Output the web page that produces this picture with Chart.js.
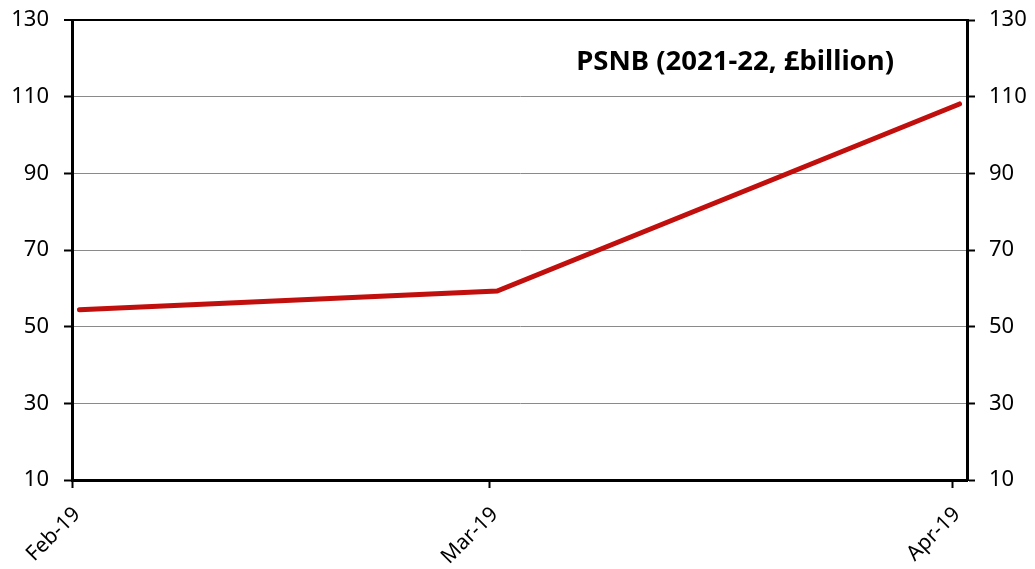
<!DOCTYPE html>
<html>
<head>
<meta charset="utf-8">
<script src="https://cdn.jsdelivr.net/npm/chart.js@4"></script>
<style>
  html, body { margin: 0; padding: 0; background: #fff; }
  #wrap { width: 1035px; height: 569px; }
</style>
</head>
<body>
<div id="wrap"><canvas id="psnbChart" width="1035" height="569"></canvas></div>
<script>
// Days counted from 1 Feb 2019 (Feb has 28 days, so Mar 1 = 28, Apr 1 = 59)
const tickDays = [0, 28, 59];
const tickLabels = ['Feb-19', 'Mar-19', 'Apr-19'];
const pointDays = [0.5, 28.5, 59.5];
const psnbValues = [54.4, 59.3, 108.1];
const yTicks = [10, 30, 50, 70, 90, 110, 130];

const FONT = '"Noto Sans", "Open Sans", sans-serif';

// title drawn inside plot area
const titlePlugin = {
    id: 'insideTitle',
    afterDraw(chart) {
        const ctx = chart.ctx;
        ctx.save();
        ctx.font = 'bold 27.5px ' + FONT;
        ctx.fillStyle = '#000';
        ctx.textAlign = 'right';
        ctx.textBaseline = 'alphabetic';
        ctx.fillText('PSNB (2021-22, £billion)', 894, 70);
        ctx.restore();
    }
};

// y axes: drop label overflow padding so the plot top sits at the layout padding
const fixY = width => axis => {
    axis.width = width;
    axis.paddingTop = 0;
    axis.paddingBottom = 0;
};

const ctx = document.getElementById('psnbChart').getContext('2d');
new Chart(ctx, {
    type: 'line',
    data: {
        datasets: [{
            label: 'PSNB',
            data: pointDays.map((d, i) => ({ x: d, y: psnbValues[i] })),
            borderColor: '#c00f0c',
            borderWidth: 5,
            borderCapStyle: 'round',
            borderJoinStyle: 'miter',
            pointRadius: 0,
            tension: 0
        }]
    },
    options: {
        responsive: false,
        animation: false,
        layout: { padding: { top: 20, left: 0, right: 0, bottom: 0 } },
        plugins: {
            legend: { display: false },
            tooltip: { enabled: false }
        },
        scales: {
            x: {
                type: 'linear',
                min: 0,
                max: 60,
                afterBuildTicks: axis => { axis.ticks = tickDays.map(v => ({ value: v })); },
                afterFit: axis => { axis.height = 89; },
                ticks: {
                    autoSkip: false,
                    maxRotation: 45,
                    minRotation: 45,
                    padding: 14,
                    labelOffset: 5,
                    color: '#000',
                    font: { family: FONT, size: 21 },
                    callback: v => tickLabels[tickDays.indexOf(v)]
                },
                grid: {
                    drawOnChartArea: false,
                    drawTicks: true,
                    tickLength: 8,
                    tickWidth: 2,
                    tickColor: '#000'
                },
                border: { display: true, color: '#000', width: 3 }
            },
            y: {
                position: 'left',
                min: 10,
                max: 130,
                afterBuildTicks: axis => { axis.ticks = yTicks.map(v => ({ value: v })); },
                afterFit: fixY(72),
                ticks: {
                    color: '#000',
                    padding: 15,
                    font: { family: FONT, size: 22 }
                },
                grid: {
                    color: c => c.tick && c.tick.value === 130 ? '#000' : '#8a8a8a',
                    lineWidth: c => c.tick && c.tick.value === 130 ? 2 : 1,
                    drawTicks: true,
                    tickLength: 8,
                    tickWidth: 2,
                    tickColor: '#000'
                },
                border: { display: true, color: '#000', width: 3 }
            },
            y2: {
                position: 'right',
                min: 10,
                max: 130,
                afterBuildTicks: axis => { axis.ticks = yTicks.map(v => ({ value: v })); },
                afterFit: fixY(68),
                ticks: {
                    color: '#000',
                    padding: 14,
                    font: { family: FONT, size: 22 }
                },
                grid: {
                    drawOnChartArea: false,
                    drawTicks: true,
                    tickLength: 8,
                    tickWidth: 2,
                    tickColor: '#000'
                },
                border: { display: true, color: '#000', width: 3 }
            }
        }
    },
    plugins: [titlePlugin]
});
</script>
</body>
</html>
